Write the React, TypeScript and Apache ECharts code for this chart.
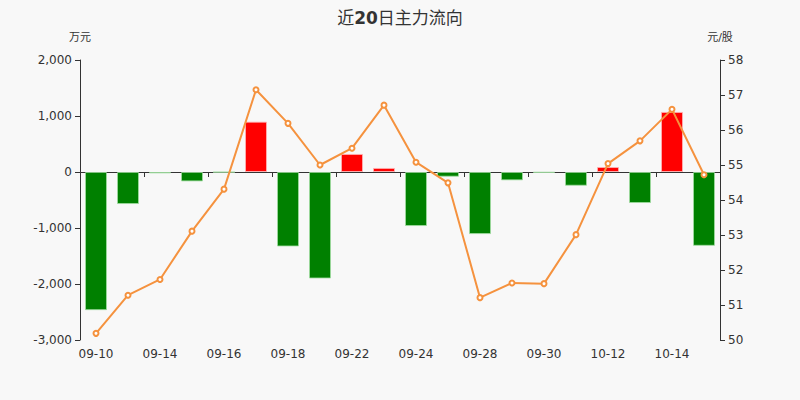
import React, { useEffect, useRef } from "react";
import * as echarts from "echarts";

const categories = [
  "09-10", "09-11", "09-14", "09-15", "09-16", "09-17", "09-18", "09-21", "09-22", "09-23",
  "09-24", "09-25", "09-28", "09-29", "09-30", "10-09", "10-12", "10-13", "10-14", "10-15",
];
const flowValues = [
  -2467, -572, -25, -168, -5, 899, -1330, -1902, 322, 72,
  -965, -84, -1109, -149, -12, -245, 89, -554, 1073, -1318,
];
const priceValues = [
  50.19, 51.28, 51.73, 53.11, 54.31, 57.15, 56.19, 55.0, 55.48, 56.71,
  55.08, 54.49, 51.21, 51.63, 51.61, 53.01, 55.04, 55.69, 56.59, 54.72,
];

export default function App() {
  const ref = useRef<HTMLDivElement>(null);
  useEffect(() => {
    if (!ref.current) return;
    const chart = echarts.init(ref.current, null, { renderer: "svg" });
    const axisColor = "#333";
    const font = "DejaVu Sans, Noto Sans CJK SC, sans-serif";
    chart.setOption({
      animation: false,
      backgroundColor: "#f8f8f8",
      textStyle: { fontFamily: font },
      title: {
        text: "近{b|20}日主力流向",
        left: "center",
        top: 4,
        textStyle: {
          fontSize: 17,
          fontWeight: "normal",
          color: "#333",
          fontFamily: font,
          rich: {
            b: { fontSize: 17, fontWeight: "bold", color: "#333", fontFamily: font },
          },
        },
      },
      grid: { left: 80, right: 80, top: 60, bottom: 60 },
      xAxis: [
        {
          type: "category",
          data: categories,
          position: "bottom",
          axisLine: { show: false, onZero: false },
          axisTick: { show: false },
          axisLabel: { interval: 1, color: "#333", fontSize: 12, margin: 8, fontFamily: font },
        },
        {
          type: "category",
          data: categories,
          position: "bottom",
          axisLine: { show: true, onZero: true, lineStyle: { color: axisColor } },
          axisTick: { show: true, interval: 1, lineStyle: { color: axisColor } },
          axisLabel: { show: false },
        },
      ],
      yAxis: [
        {
          type: "value",
          name: "万元",
          min: -3000,
          max: 2000,
          interval: 1000,
          nameGap: 17,
          nameTextStyle: { color: "#333", fontSize: 11, fontFamily: font },
          axisLine: { show: true, lineStyle: { color: axisColor } },
          axisTick: { show: true },
          splitLine: { show: false },
          axisLabel: {
            color: "#333",
            fontSize: 12,
            fontFamily: font,
            formatter: (v: number) => v.toLocaleString("en-US"),
          },
        },
        {
          type: "value",
          name: "元/股",
          min: 50,
          max: 58,
          interval: 1,
          position: "right",
          nameGap: 17,
          nameTextStyle: { color: "#333", fontSize: 11, fontFamily: font },
          axisLine: { show: true, lineStyle: { color: axisColor } },
          axisTick: { show: true },
          splitLine: { show: false },
          axisLabel: { color: "#333", fontSize: 12, fontFamily: font },
        },
      ],
      series: [
        {
          type: "bar",
          xAxisIndex: 0,
          yAxisIndex: 0,
          barWidth: 22,
          data: flowValues.map((v) => ({
            value: v,
            itemStyle: {
              color: v >= 0 ? "#ff0000" : "#008000",
              borderColor: v >= 0 ? "rgba(255,180,180,0.8)" : "rgba(160,220,160,0.8)",
              borderWidth: 1,
            },
          })),
        },
        {
          type: "line",
          xAxisIndex: 0,
          yAxisIndex: 1,
          data: priceValues,
          symbol: "emptyCircle",
          symbolSize: 5,
          lineStyle: { color: "#f5923e", width: 2 },
          itemStyle: { color: "#f5923e" },
        },
      ],
    });
    return () => chart.dispose();
  }, []);
  return (
    <div
      ref={ref}
      style={{ position: "fixed", left: 0, top: 0, width: 800, height: 400 }}
    />
  );
}
